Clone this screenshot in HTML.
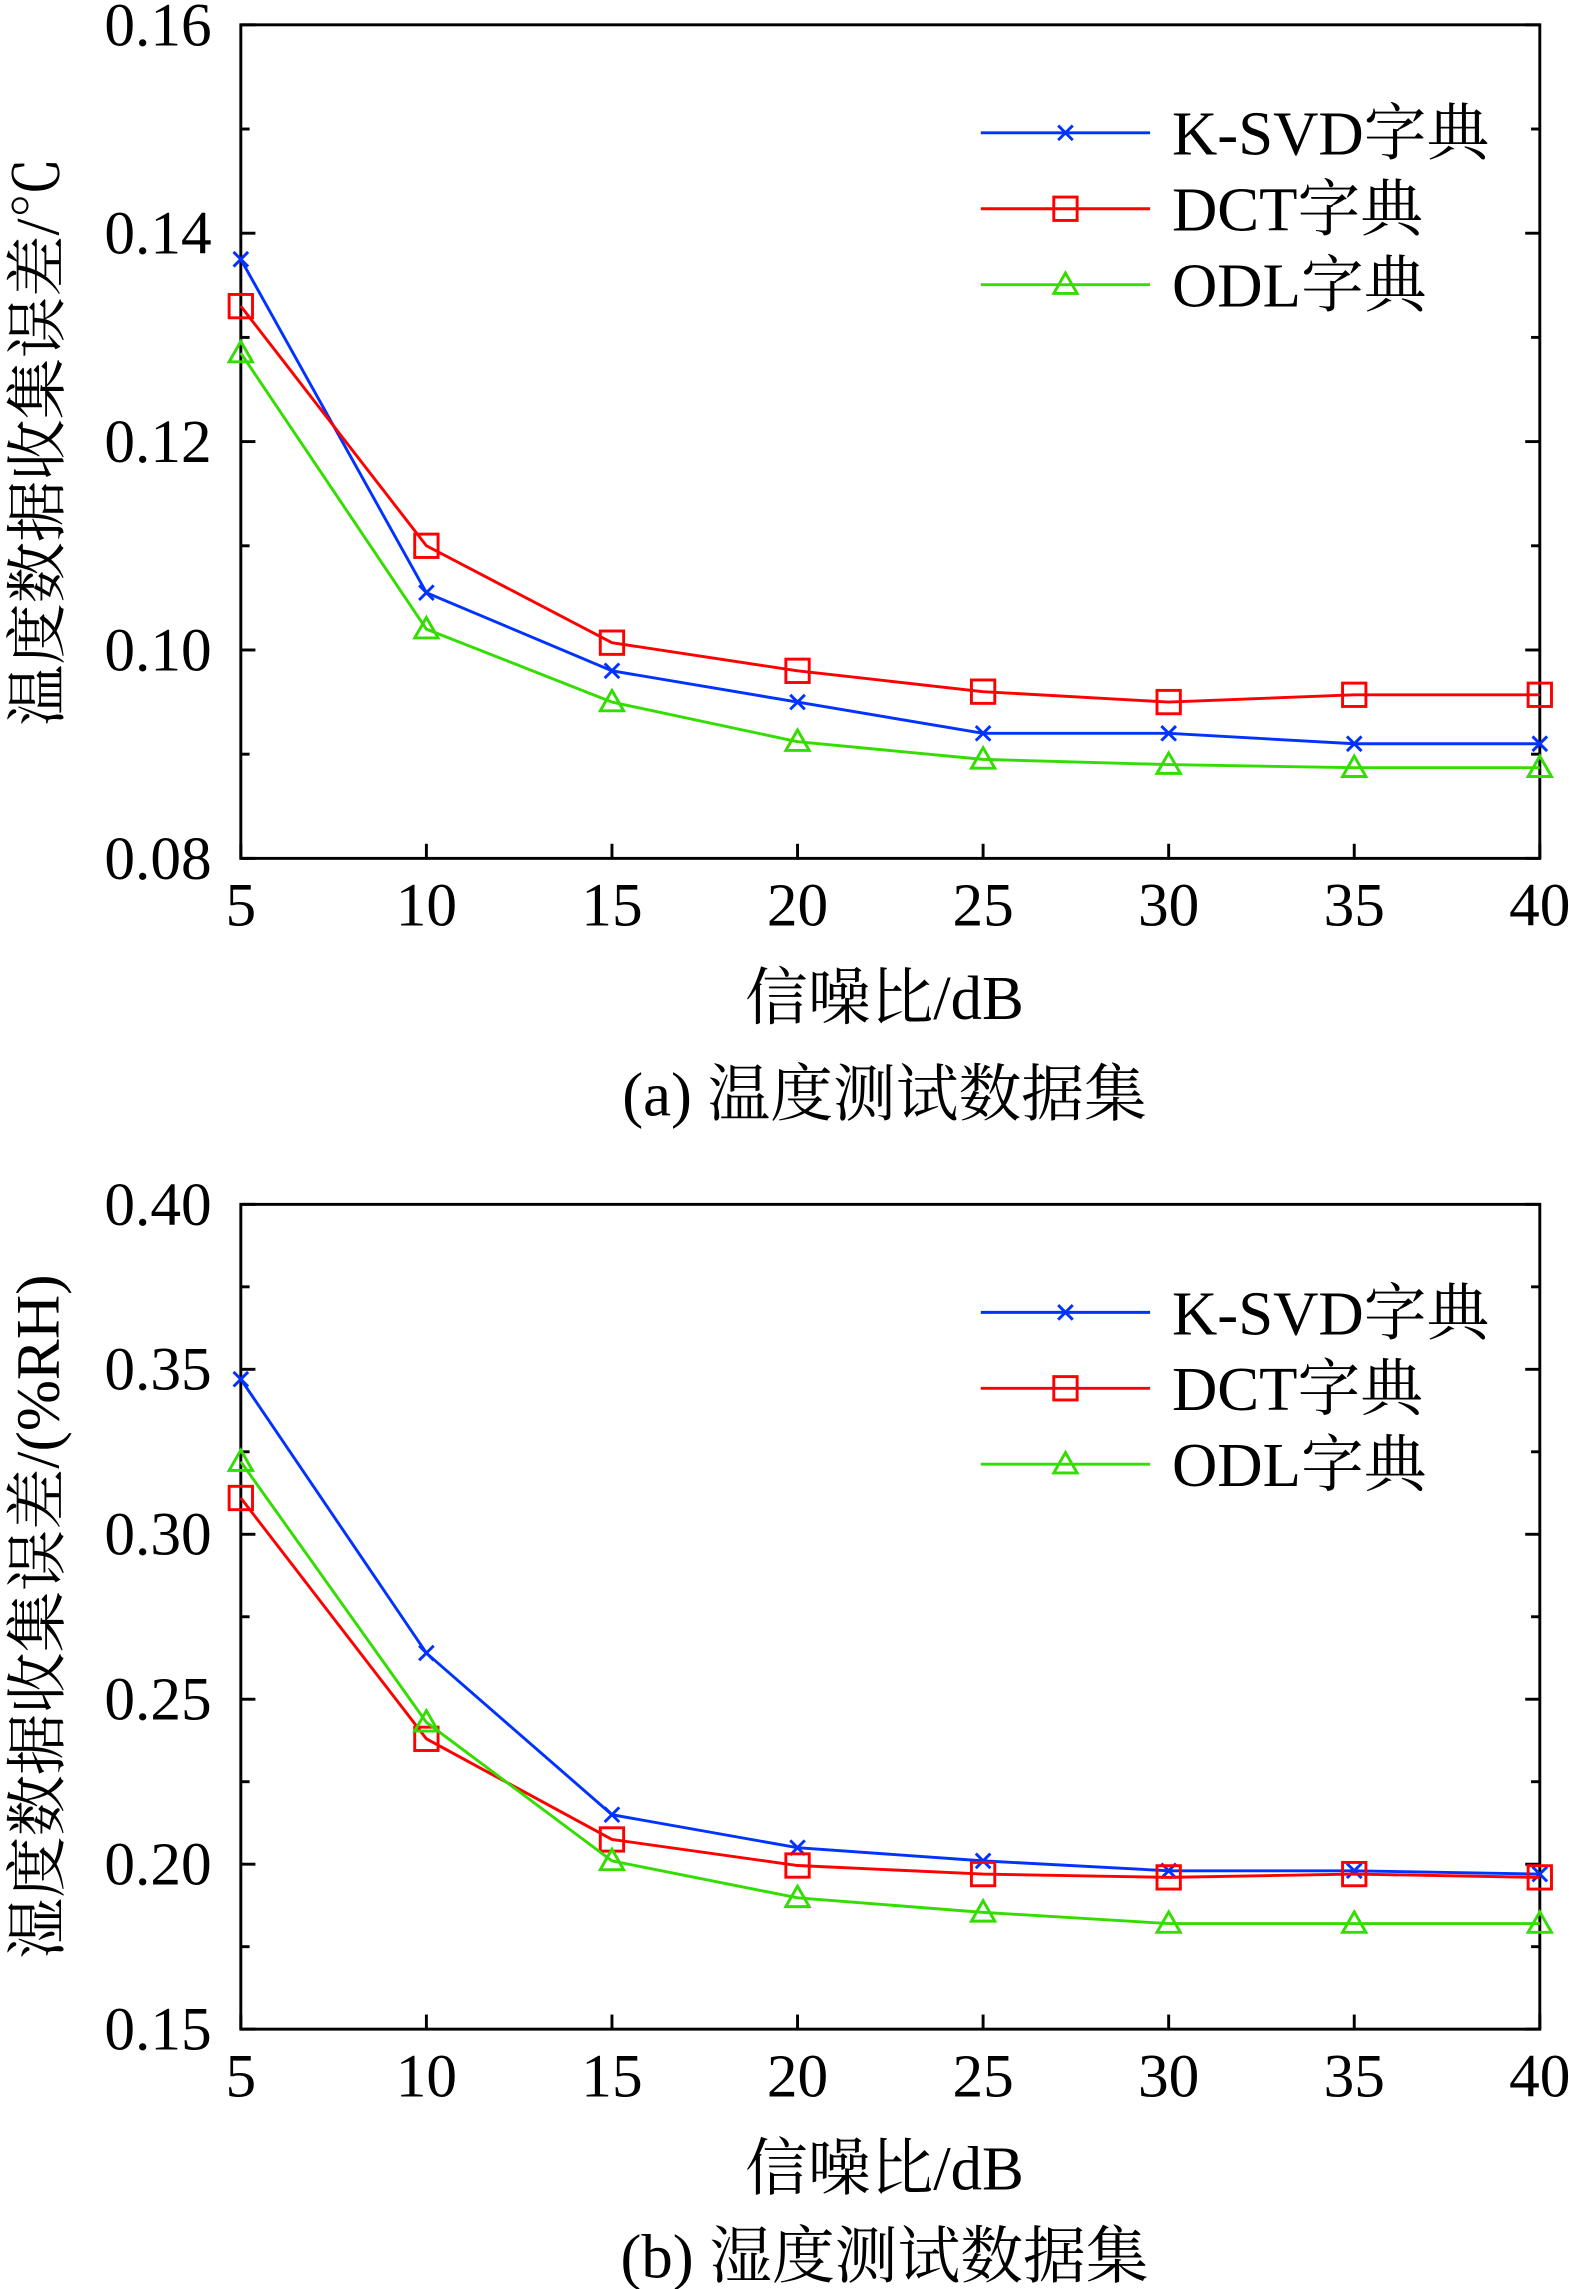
<!DOCTYPE html>
<html><head><meta charset="utf-8">
<style>
html,body{margin:0;padding:0;background:#fff;}
svg{display:block;}
text{font-family:"Liberation Serif","Noto Serif CJK SC",serif;fill:#000;}
</style></head>
<body>
<svg id="svg" width="1569" height="2289" viewBox="0 0 1075 1568" preserveAspectRatio="none"></svg>
<script>
const xCats = [5,10,15,20,25,30,35,40];
const tempKSVD = [0.1375,0.1055,0.098,0.095,0.092,0.092,0.091,0.091];
const tempDCT  = [0.133,0.110,0.1007,0.098,0.096,0.095,0.0957,0.0957];
const tempODL  = [0.1285,0.102,0.095,0.0912,0.0895,0.089,0.0887,0.0887];
const humKSVD = [0.347,0.264,0.215,0.205,0.201,0.198,0.198,0.197];
const humDCT  = [0.311,0.238,0.2075,0.1996,0.197,0.196,0.197,0.196];
const humODL  = [0.322,0.243,0.201,0.1898,0.1854,0.182,0.182,0.182];
const tempTicks = ["0.08","0.10","0.12","0.14","0.16"];
const humTicks = ["0.15","0.20","0.25","0.30","0.35","0.40"];
const seriesNames = ["K-SVD字典","DCT字典","ODL字典"];

const NS="http://www.w3.org/2000/svg";
const svg=document.getElementById('svg');
function el(tag,attrs,parent,txt){const e=document.createElementNS(NS,tag);for(const k in attrs)e.setAttribute(k,attrs[k]);if(txt!==undefined)e.textContent=txt;(parent||svg).appendChild(e);return e;}

function marker(g,type,x,y,color){
  if(type==='x'){
    el('path',{d:`M${x-5} ${y-5}L${x+5} ${y+5}M${x-5} ${y+5}L${x+5} ${y-5}`,stroke:color,'stroke-width':2,fill:'none'},g);
  }else if(type==='s'){
    el('rect',{x:x-8,y:y-8,width:16,height:16,stroke:color,'stroke-width':2,fill:'none'},g);
  }else{
    el('path',{d:`M${x} ${y-8}L${x+8} ${y+6}L${x-8} ${y+6}Z`,stroke:color,'stroke-width':2,fill:'none'},g);
  }
}

function chart(o){
  const L=165,R=1055,T=o.top,B=o.bottom;
  const g=el('g',{});
  
  
  const xs=v=>L+(v-5)/(40-5)*(R-L);
  const ys=v=>B-(v-o.ymin)/(o.ymax-o.ymin)*(B-T);
  const frame=el('rect',{x:L,y:T,width:R-L,height:B-T,fill:'none',stroke:'#000','stroke-width':2},g);
  
  
  const n=o.ticks.length;
  o.ticks.forEach((t,i)=>{
    const v=parseFloat(t);const y=ys(v);
    el('line',{x1:L,x2:L+10,y1:y,y2:y,stroke:'#000','stroke-width':2},g);
    el('line',{x1:R,x2:R-10,y1:y,y2:y,stroke:'#000','stroke-width':2},g);
    if(i<n-1){const ym=ys(v+o.step/2);
      el('line',{x1:L,x2:L+6,y1:ym,y2:ym,stroke:'#000','stroke-width':2},g);
      el('line',{x1:R,x2:R-6,y1:ym,y2:ym,stroke:'#000','stroke-width':2},g);}
    const tx=el('text',{x:L-20,y:y+14,'text-anchor':'end','font-size':42},g,t);
    
    
  });
  xCats.forEach(c=>{
    const x=xs(c);
    el('line',{x1:x,x2:x,y1:B,y2:B-10,stroke:'#000','stroke-width':2},g);
    const tx=el('text',{x:x,y:B+46,'text-anchor':'middle','font-size':42},g,String(c));
    
    
  });
  const xt=el('text',{x:606,y:B+110,'text-anchor':'middle','font-size':43},g,'信噪比/dB');
  
  
  const yt=el('text',{x:0,y:0,'text-anchor':'middle','font-size':42,transform:`translate(40,${(T+B)/2}) rotate(-90)`},g,o.ytitle);
  
  
  const cap=el('text',{x:606,y:o.capY,'text-anchor':'middle','font-size':43},g,o.caption);
  
  
  const cfg=[['#0033ff','x'],['#ff0000','s'],['#33dd00','t']];
  o.series.forEach((arr,si)=>{
    const sg=el('g',{},g);
    
    
    el('polyline',{points:arr.map((v,i)=>xs(xCats[i])+','+ys(v)).join(' '),fill:'none',stroke:cfg[si][0],'stroke-width':2},sg);
    arr.forEach((v,i)=>marker(sg,cfg[si][1],xs(xCats[i]),ys(v),cfg[si][0]));
    const ly=T+74+si*52;
    const lg=el('g',{},g);
    
    
    el('line',{x1:672,x2:788,y1:ly,y2:ly,stroke:cfg[si][0],'stroke-width':2},lg);
    marker(lg,cfg[si][1],730,ly,cfg[si][0]);
    el('text',{x:803,y:ly+15,'font-size':43},lg,seriesNames[si]);
  });
}
chart({name:'temperature-chart',top:17,bottom:588,ymin:0.08,ymax:0.16,step:0.02,ticks:tempTicks,
  series:[tempKSVD,tempDCT,tempODL],ytitle:'温度数据收集误差/℃',caption:'(a) 温度测试数据集',capY:764});
chart({name:'humidity-chart',top:825,bottom:1390,ymin:0.15,ymax:0.40,step:0.05,ticks:humTicks,
  series:[humKSVD,humDCT,humODL],ytitle:'湿度数据收集误差/(%RH)',caption:'(b) 湿度测试数据集',capY:1560});
</script>
</body></html>
